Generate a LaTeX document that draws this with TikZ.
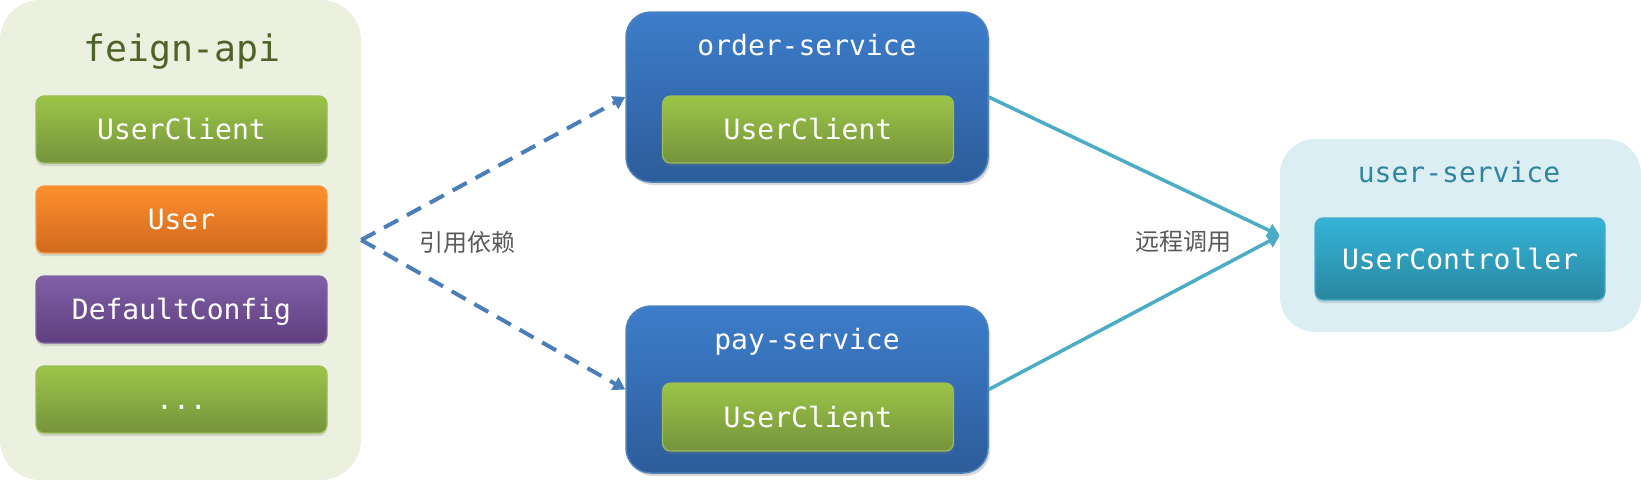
\documentclass[tikz,border=0pt]{standalone}
\usepackage{fontspec}
\setmonofont{DejaVu Sans Mono}
\newfontfamily\cjk{Noto Sans CJK SC}
\usetikzlibrary{shadows,arrows.meta}
\definecolor{feignbg}{HTML}{EBF1DE}
\definecolor{feigntxt}{HTML}{4F6228}
\definecolor{usrbg}{HTML}{DAEEF3}
\definecolor{usrtxt}{HTML}{31859C}
\definecolor{bluetop}{HTML}{3D7DCB}
\definecolor{bluebot}{HTML}{2D5C9A}
\definecolor{blueline}{HTML}{4F81BD}
\definecolor{greentop}{HTML}{9BC548}
\definecolor{greenbot}{HTML}{76933C}
\definecolor{greenline}{HTML}{9BBB59}
\definecolor{orangetop}{HTML}{FF8F2C}
\definecolor{orangebot}{HTML}{D0691E}
\definecolor{orangeline}{HTML}{F79646}
\definecolor{purpletop}{HTML}{8060A8}
\definecolor{purplebot}{HTML}{5F3F7E}
\definecolor{purpleline}{HTML}{8064A2}
\definecolor{ctrltop}{HTML}{35B3D8}
\definecolor{ctrlbot}{HTML}{2A87A0}
\definecolor{ctrlline}{HTML}{4BACC6}
\definecolor{dasharrow}{HTML}{4A7EBB}
\definecolor{callarrow}{HTML}{4BACC6}
\definecolor{labelgray}{HTML}{595959}
\tikzset{
  mono/.style={font=\ttfamily\fontsize{28}{28}\selectfont},
  itembox/.style={rounded corners=8pt, minimum width=291pt, minimum height=67pt,
    text=white, mono, text height=20pt, text depth=0pt, line width=1.2pt,
    inner sep=0pt,
    drop shadow={shadow xshift=0pt, shadow yshift=-3pt, opacity=0.25}},
  greenbox/.style={itembox, draw=greenline, top color=greentop, bottom color=greenbot},
  orangebox/.style={itembox, draw=orangeline, top color=orangetop, bottom color=orangebot},
  purplebox/.style={itembox, draw=purpleline, top color=purpletop, bottom color=purplebot},
  ctrlbox/.style={itembox, draw=ctrlline, top color=ctrltop, bottom color=ctrlbot, minimum width=290pt, minimum height=82pt},
  servicebox/.style={rounded corners=25pt, minimum width=362pt, inner sep=0pt,
    draw=blueline, line width=1.5pt, top color=bluetop, bottom color=bluebot,
    drop shadow={shadow xshift=2pt, shadow yshift=-3pt, opacity=0.3}},
  title/.style={mono, anchor=base},
  lbl/.style={font=\cjk\fontsize{24}{24}\selectfont, text=labelgray},
  deparrow/.style={draw=dasharrow, line width=4pt, dash pattern=on 16pt off 10pt,
    -{Triangle[length=12pt,width=14pt]}},
  callline/.style={draw=callarrow, line width=3.5pt, -{Triangle[length=12pt,width=14pt]}}
}
\begin{document}
\begin{tikzpicture}[x=1pt,y=-1pt]
\useasboundingbox (0,0) rectangle (1641,485);
% feign-api container
\node[rounded corners=40pt, fill=feignbg, minimum width=361pt, minimum height=480pt, inner sep=0pt] (feign) at (180.5,240) {};
\node[title, font=\ttfamily\fontsize{36.5}{36.5}\selectfont, text=feigntxt] (feigntitle) at (182,61) {feign-api};
\node[greenbox] (fuc) at (181.5,129.5) {UserClient};
\node[orangebox] (fuser) at (181.5,219.5) {User};
\node[purplebox] (fcfg) at (181.5,309.5) {DefaultConfig};
\node[greenbox] (fmore) at (181.5,399.5) {...};
% order-service
\node[servicebox, minimum height=170pt] (order) at (807,97) {};
\node[title, text=white] (ordertitle) at (807,55) {order-service};
\node[greenbox] (ouc) at (808,129.5) {UserClient};
% pay-service
\node[servicebox, minimum height=167pt] (pay) at (807,389.5) {};
\node[title, text=white] (paytitle) at (807,349) {pay-service};
\node[greenbox, minimum height=68pt] (puc) at (808,417) {UserClient};
% user-service
\node[rounded corners=35pt, fill=usrbg, minimum width=361pt, minimum height=193pt, inner sep=0pt] (usr) at (1460.5,235.5) {};
\node[title, text=usrtxt] (usrtitle) at (1459,182) {user-service};
\node[ctrlbox] (ctrl) at (1460,259) {UserController};
% connectors
\draw[deparrow] (feign.east) -- (order.west);
\draw[deparrow] (feign.east) -- (pay.west);
\draw[callline] (order.east) -- (usr.west);
\draw[callline] (pay.east) -- (usr.west);
% labels
\node[lbl] (deplbl) at (467,242) {引用依赖};
\node[lbl] (calllbl) at (1183,242) {远程调用};
\end{tikzpicture}
\end{document}
